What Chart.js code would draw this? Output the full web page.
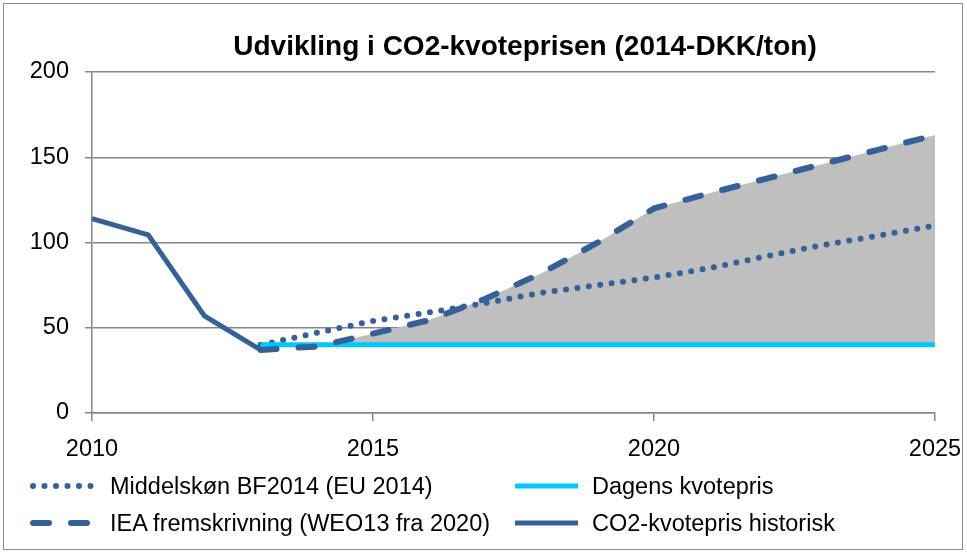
<!DOCTYPE html>
<html>
<head>
<meta charset="utf-8">
<script src="https://cdn.jsdelivr.net/npm/chart.js@4/dist/chart.umd.min.js"></script>
<style>
  body { margin: 0; background: #fff; }
  #wrap { position: relative; width: 967px; height: 554px; font-family: 'Liberation Sans', Arial, sans-serif; }
  #frame { position: absolute; left: 3px; top: 3px; width: 958px; height: 545px; border: 1.5px solid #8c8c8c; pointer-events: none; }
  #chart { position: absolute; left: 0; top: 0; }
  #title { position: absolute; left: 0; width: 1050px; top: 30px; line-height: 32px; text-align: center;
           font-weight: bold; font-size: 28px; color: #000; }
  .leg { position: absolute; height: 30px; line-height: 30px; font-size: 23.5px; color: #000; white-space: nowrap; }
  .leg svg { position: absolute; top: 0; left: 0; }
  .leg span { margin-left: 80px; }
</style>
</head>
<body>
<div id="wrap">
  <canvas id="chart" width="967" height="554"></canvas>
  <div id="title">Udvikling i CO2-kvoteprisen (2014-DKK/ton)</div>
  <div id="legend"></div>
  <div id="frame"></div>
</div>
<script>
// data
const histYears = [2010, 2011, 2012, 2013];
const histPrice = [114, 104.5, 57, 37];

const projYears = [2013, 2014, 2015, 2016, 2017, 2018, 2019, 2020, 2021, 2022, 2023, 2024, 2025];
const middelskon = [40, 47, 54, 59, 64.5, 70.5, 75, 79.5, 85, 92, 98.5, 104, 110];
const ieaProj = [37, 39, 46.5, 54.5, 67, 82, 100, 120, 129, 137.5, 146, 154.5, 163];
const dagensPris = [40, 40, 40, 40, 40, 40, 40, 40, 40, 40, 40, 40, 40];

const yTicks = [0, 50, 100, 150, 200];
const xTicks = [2010, 2015, 2020, 2025];

const darkBlue = '#36609a';
const cyan = '#00c8fa';
const gridGray = '#868686';

function pts(xs, ys) {
  return xs.map((x, i) => ({ x: x, y: ys[i] }));
}

const datasets = [
  {
    label: 'Middelskøn BF2014 (EU 2014)',
    data: pts(projYears, middelskon),
    borderColor: darkBlue,
    borderWidth: 6,
    borderDash: [0, 11.5],
    borderCapStyle: 'round',
    order: 3
  },
  {
    label: 'Dagens kvotepris',
    data: pts(projYears, dagensPris),
    borderColor: cyan,
    borderWidth: 5,
    order: 2
  },
  {
    label: 'IEA fremskrivning (WEO13 fra 2020)',
    data: pts(projYears, ieaProj),
    borderColor: darkBlue,
    borderWidth: 6,
    borderDash: [16, 22],
    borderCapStyle: 'round',
    fill: { target: 1, above: '#bfbfbf', below: 'rgba(0,0,0,0)' },
    order: 1
  },
  {
    label: 'CO2-kvotepris historisk',
    data: pts(histYears, histPrice),
    borderColor: darkBlue,
    borderWidth: 5,
    order: 0
  }
];

const tickFont = { family: "'Liberation Sans', Arial, sans-serif", size: 23.5 };

new Chart(document.getElementById('chart'), {
  type: 'line',
  data: { datasets: datasets },
  options: {
    responsive: false,
    animation: false,
    events: [],
    elements: { point: { radius: 0 }, line: { tension: 0 } },
    layout: { padding: { top: 72, right: 32, left: 0, bottom: 0 } },
    plugins: {
      legend: { display: false },
      tooltip: { enabled: false },
      filler: { drawTime: 'beforeDatasetsDraw' }
    },
    scales: {
      x: {
        type: 'linear',
        min: xTicks[0],
        max: xTicks[xTicks.length - 1],
        afterBuildTicks: s => { s.ticks = xTicks.map(v => ({ value: v })); },
        afterFit: s => { s.height = 554 - 413; s.paddingLeft = 0; s.paddingRight = 0; },
        ticks: { color: '#000', font: tickFont, padding: 14, maxRotation: 0, callback: v => String(v) },
        grid: { drawOnChartArea: false, color: gridGray, lineWidth: 1.5, tickLength: 8 },
        border: { color: gridGray, width: 1.5 }
      },
      y: {
        min: 0,
        max: 200,
        afterBuildTicks: s => { s.ticks = yTicks.map(v => ({ value: v })); },
        afterFit: s => { s.width = 92; s.paddingTop = 0; s.paddingBottom = 0; },
        ticks: { color: '#000', font: tickFont, padding: 16 },
        grid: { color: gridGray, lineWidth: 1.5, tickLength: 7 },
        border: { color: gridGray, width: 1.5 }
      }
    }
  }
});

// legend, two columns x two rows like the original
const legendSlots = [
  { ds: 0, x: 30, y: 471 },
  { ds: 1, x: 512, y: 471 },
  { ds: 2, x: 30, y: 508 },
  { ds: 3, x: 512, y: 508 }
];
const legendEl = document.getElementById('legend');
legendSlots.forEach(slot => {
  const ds = datasets[slot.ds];
  const div = document.createElement('div');
  div.className = 'leg';
  div.style.left = slot.x + 'px';
  div.style.top = slot.y + 'px';
  const dash = ds.borderDash ? ds.borderDash.join(' ') : 'none';
  const cap = ds.borderCapStyle || 'butt';
  div.innerHTML =
    '<svg width="72" height="30"><line x1="3" y1="15" x2="66" y2="15" stroke="' + ds.borderColor +
    '" stroke-width="' + ds.borderWidth + '" stroke-dasharray="' + dash + '" stroke-linecap="' + cap + '"/></svg>' +
    '<span></span>';
  div.querySelector('span').textContent = ds.label;
  legendEl.appendChild(div);
});
</script>
</body>
</html>
